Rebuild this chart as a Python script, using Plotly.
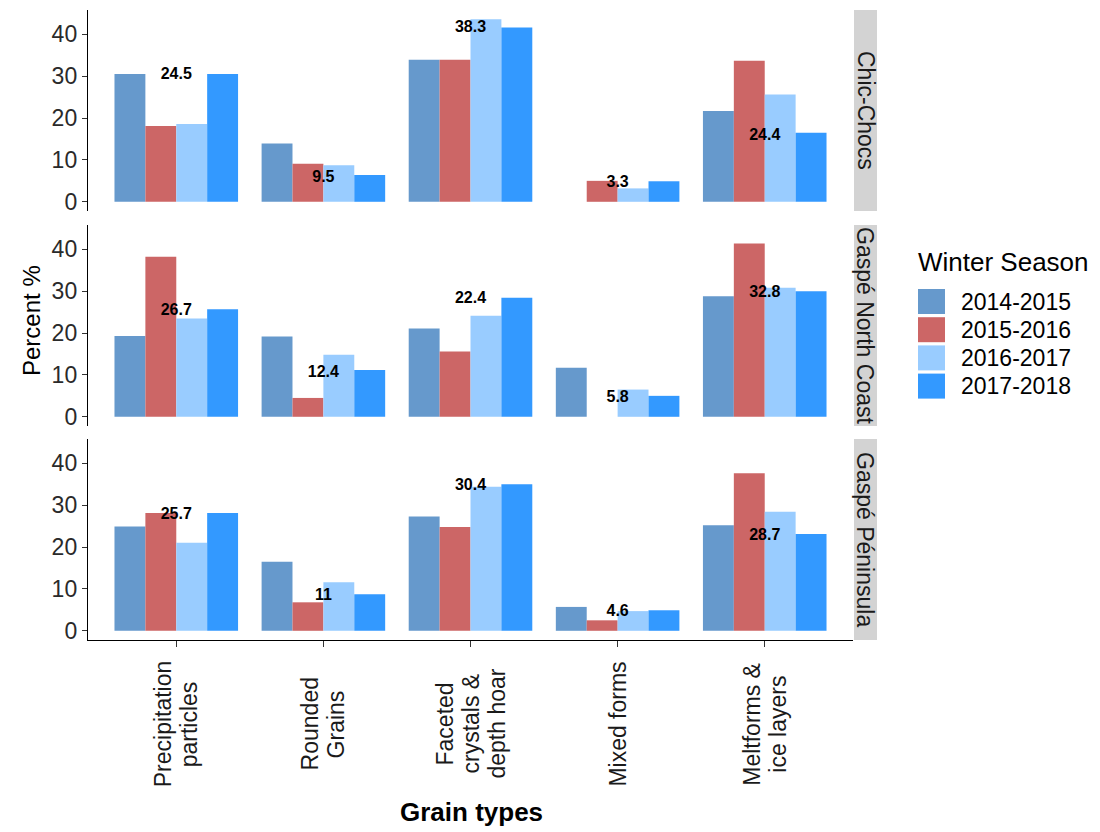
import plotly.graph_objects as go
from plotly.subplots import make_subplots

# ---------------- data ----------------
categories = ["Precipitation<br>particles", "Rounded<br>Grains",
              "Faceted<br>crystals &<br>depth hoar", "Mixed forms",
              "Meltforms &<br>ice layers"]
seasons = ["2014-2015", "2015-2016", "2016-2017", "2017-2018"]
regions = ["Chic-Chocs", "Gaspé North Coast", "Gaspé Péninsula"]

# percent values per region, per season (order follows categories)
chic_2014 = [30.5, 13.9, 33.9, 0.0, 21.7]
chic_2015 = [18.1, 9.1, 33.9, 5.0, 33.7]
chic_2016 = [18.6, 8.7, 43.6, 3.2, 25.6]
chic_2017 = [30.5, 6.4, 41.6, 4.9, 16.5]

north_2014 = [19.3, 19.2, 21.1, 11.7, 28.8]
north_2015 = [38.2, 4.5, 15.6, 0.0, 41.4]
north_2016 = [23.5, 14.8, 24.1, 6.5, 30.8]
north_2017 = [25.7, 11.2, 28.4, 5.0, 30.0]

pen_2014 = [24.9, 16.5, 27.3, 5.7, 25.2]
pen_2015 = [28.1, 6.8, 24.8, 2.5, 37.6]
pen_2016 = [21.0, 11.6, 34.4, 4.7, 28.4]
pen_2017 = [28.1, 8.7, 35.0, 4.9, 23.1]

# mean labels and the height at which they are printed
chic_labels = ["24.5", "9.5", "38.3", "3.3", "24.4"]
north_labels = ["26.7", "12.4", "22.4", "5.8", "32.8"]
pen_labels = ["25.7", "11", "30.4", "4.6", "28.7"]
chic_label_y = [30.2, 5.8, 41.4, 4.6, 15.8]
north_label_y = [25.3, 10.5, 28.1, 4.6, 29.6]
pen_label_y = [27.6, 8.4, 34.6, 4.5, 22.6]

y_ticks = [0, 10, 20, 30, 40]

# ---------------- styling ----------------
colors = ["#6699CC", "#CC6666", "#99CCFF", "#3399FF"]
FONT = "Liberation Sans, Arial, sans-serif"
OFF = 8  # page body margin
W, H = 1100 - OFF, 832 - OFF
# target positions below are page pixels
PL, PR, PT, PB = 88, 853, 10, 640
ML, MR, MT, MB = PL - OFF, W - (PR - OFF), PT - OFF, H - (PB - OFF)
PW, PH = PR - PL, PB - PT

def px_to_paper_x(px):
    return (px - PL) / PW

def px_to_paper_y(py):
    return (PB - py) / PH

panel_px = [(10, 211), (225, 426), (439, 640)]
domains = [[px_to_paper_y(b), px_to_paper_y(t)] for t, b in panel_px]

region_values = [
    [chic_2014, chic_2015, chic_2016, chic_2017],
    [north_2014, north_2015, north_2016, north_2017],
    [pen_2014, pen_2015, pen_2016, pen_2017],
]
region_labels = [chic_labels, north_labels, pen_labels]
region_label_y = [chic_label_y, north_label_y, pen_label_y]

fig = make_subplots(rows=3, cols=1, shared_xaxes=True, vertical_spacing=0.02)

for r, vals in enumerate(region_values):
    for s, season in enumerate(seasons):
        fig.add_trace(go.Bar(x=categories, y=vals[s], name=season,
                             marker=dict(color=colors[s], line=dict(width=0)),
                             showlegend=False, legendgroup=season,
                             offsetgroup=str(s)),
                      row=r + 1, col=1)
    fig.add_trace(go.Scatter(x=categories, y=region_label_y[r], mode="text",
                             text=region_labels[r],
                             textfont=dict(family=FONT, size=16, color="black",
                                           weight="bold"),
                             textposition="middle center", showlegend=False,
                             hoverinfo="skip"),
                  row=r + 1, col=1)

fig.update_layout(
    width=W, height=H,
    margin=dict(l=ML, r=MR, t=MT, b=MB, pad=0),
    paper_bgcolor="white", plot_bgcolor="white",
    barmode="group", bargap=0.16, bargroupgap=0.0,
    font=dict(family=FONT, color="#1a1a1a"),
    showlegend=False,
)

for r in range(3):
    yname = "yaxis" if r == 0 else f"yaxis{r + 1}"
    xname = "xaxis" if r == 0 else f"xaxis{r + 1}"
    fig.layout[yname].update(
        domain=domains[r], range=[-2.2, 45.8], tickvals=y_ticks,
        ticks="outside", ticklen=5, tickwidth=1.3, tickcolor="#333",
        showline=True, linecolor="black", linewidth=1.4,
        showgrid=False, zeroline=False,
        tickfont=dict(family=FONT, size=23, color="#2a2a2a"),
    )
    bottom = (r == 2)
    fig.layout[xname].update(
        domain=[0, 1], range=[-0.6, 4.6], showgrid=False, zeroline=False,
        showticklabels=False,
        showline=bottom, linecolor="black", linewidth=1.4,
        ticks="outside" if bottom else "", ticklen=6, tickwidth=1.3,
        tickcolor="#333",
    )

shapes = []
annotations = []

# facet strips on the right
for r, (t, b) in enumerate(panel_px):
    shapes.append(dict(type="rect", xref="paper", yref="paper",
                       x0=px_to_paper_x(854), x1=px_to_paper_x(877),
                       y0=px_to_paper_y(b), y1=px_to_paper_y(t),
                       fillcolor="#D3D3D3", line=dict(width=0)))
    annotations.append(dict(xref="paper", yref="paper",
                            x=px_to_paper_x(865.5), y=px_to_paper_y((t + b) / 2),
                            text=regions[r], textangle=90, showarrow=False,
                            xanchor="center", yanchor="middle",
                            font=dict(family=FONT, size=23, color="#1a1a1a")))

# category labels (rotated, centred, one annotation per line)
LINE_STEP = 26
for c in categories:
    lines = c.split("<br>")
    n = len(lines)
    for i, ln in enumerate(lines):
        annotations.append(dict(xref="x3", yref="paper", x=c,
                                y=px_to_paper_y(724), text=ln, textangle=-90,
                                showarrow=False, xanchor="center",
                                yanchor="middle",
                                xshift=(i - (n - 1) / 2) * LINE_STEP,
                                font=dict(family=FONT, size=23,
                                          color="#1a1a1a")))

# axis titles
annotations.append(dict(xref="paper", yref="paper", x=px_to_paper_x(471),
                        y=px_to_paper_y(812), text="<b>Grain types</b>",
                        showarrow=False, xanchor="center", yanchor="middle",
                        font=dict(family=FONT, size=26, color="black")))
annotations.append(dict(xref="paper", yref="paper", x=px_to_paper_x(31),
                        y=px_to_paper_y(321), text="Percent %", textangle=-90,
                        showarrow=False, xanchor="center", yanchor="middle",
                        font=dict(family=FONT, size=24, color="black")))

# legend (drawn manually to get large keys)
annotations.append(dict(xref="paper", yref="paper", x=px_to_paper_x(916),
                        y=px_to_paper_y(262), text="Winter Season",
                        showarrow=False, xanchor="left", yanchor="middle",
                        font=dict(family=FONT, size=26, color="black")))
for i, season in enumerate(seasons):
    top = 289 + i * 28.2
    shapes.append(dict(type="rect", xref="paper", yref="paper",
                       x0=px_to_paper_x(918), x1=px_to_paper_x(945),
                       y0=px_to_paper_y(top + 25), y1=px_to_paper_y(top),
                       fillcolor=colors[i], line=dict(width=0)))
    annotations.append(dict(xref="paper", yref="paper", x=px_to_paper_x(959),
                            y=px_to_paper_y(top + 12.5), text=season,
                            showarrow=False, xanchor="left", yanchor="middle",
                            font=dict(family=FONT, size=23, color="black")))

fig.update_layout(shapes=shapes, annotations=annotations)

fig.write_html("out.html")
